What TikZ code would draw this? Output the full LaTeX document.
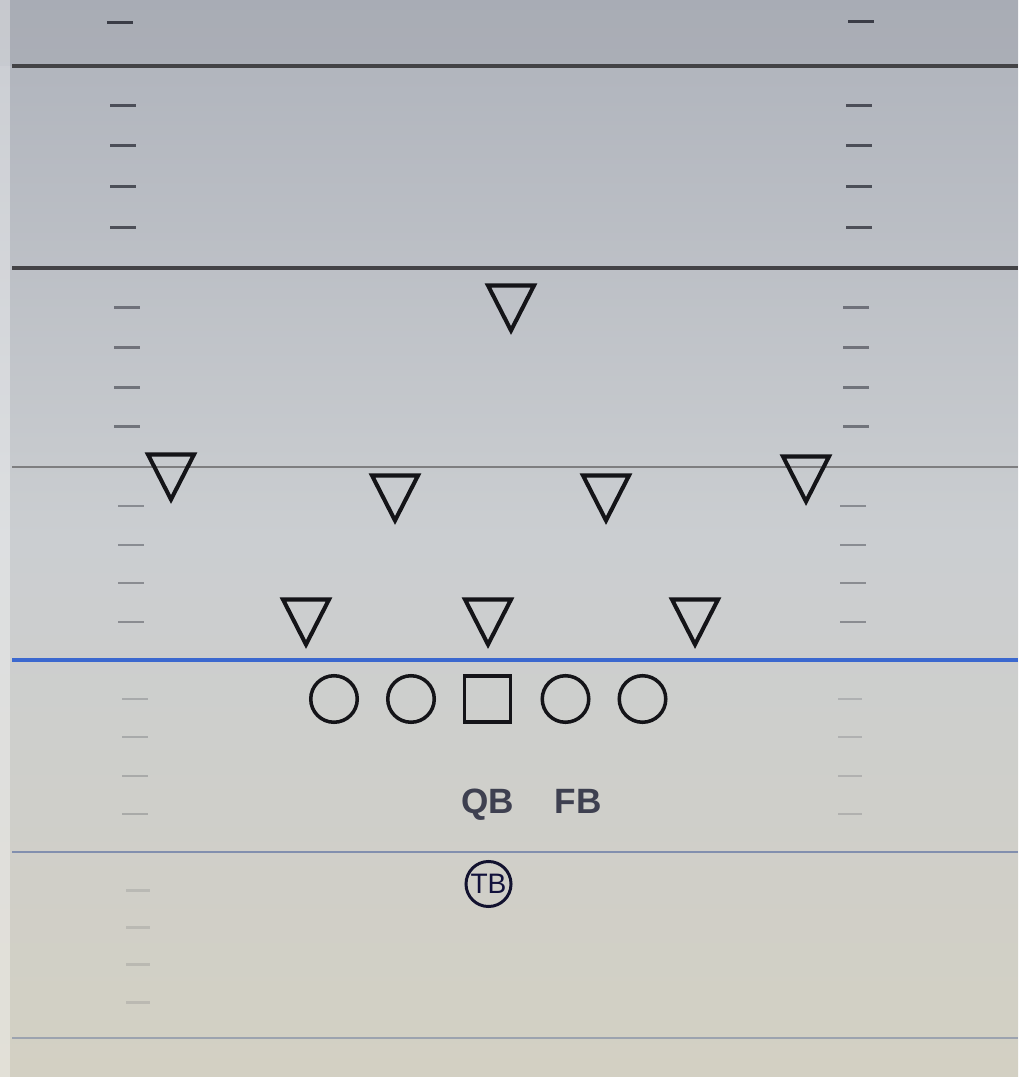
\documentclass[tikz,border=0pt]{standalone}
\usepackage{fontspec}
\setmainfont{Liberation Sans}
\definecolor{bgtop}{HTML}{AEB2BB}
\definecolor{bgmid}{HTML}{CBCED1}
\definecolor{bgbot}{HTML}{D3D0C3}
\definecolor{inkc}{HTML}{141418}
\definecolor{labc}{HTML}{3E4050}
\definecolor{losblue}{HTML}{3B68CF}
\definecolor{hashc}{HTML}{3A3C46}
\tikzset{
  yardline/.style={line width=#1, draw=inkc!80},
  hashmark/.style={line width=0.85pt, draw=hashc},
  lineman/.style={circle, draw=inkc, line width=1pt, minimum size=0.465cm, inner sep=0pt},
  center/.style={rectangle, draw=inkc, line width=1pt, minimum size=0.46cm, inner sep=0pt},
  back/.style={circle, draw=inkc!90!blue, line width=0.85pt, minimum size=0.45cm, inner sep=0pt,
    font=\fontsize{8}{8}\selectfont, text=inkc!85!blue},
  poslabel/.style={font=\fontsize{10}{10}\selectfont\bfseries, text=labc, anchor=base, inner sep=0pt},
  defender/.pic={\draw[line width=1.15pt, draw=inkc, line join=miter]
     (-23,-22.5) -- (23,-22.5) -- (0,22.5) -- cycle;}
}
\begin{document}
\begin{tikzpicture}[x=0.01cm,y=-0.01cm]
\useasboundingbox (0,0) rectangle (1018,1077);
% background
\shade[top color=bgtop, bottom color=bgbot, middle color=bgmid] (0,0) rectangle (1018,1077);
\fill[bgtop!90!black, opacity=0.3] (0,0) rectangle (1018,66);
\fill[white, opacity=0.35] (0,0) rectangle (10,1077);
% yard lines
\draw[yardline=1.15pt] (12,66) -- (1018,66);
\draw[yardline=0.9pt] (12,268) -- (1018,268);
\draw[line width=0.7pt, draw=inkc!55] (12,467) -- (1018,467);
\draw[line width=0.95pt, draw=losblue] (12,660) -- (1018,660);
\draw[line width=0.6pt, draw=losblue!45!gray, opacity=0.7] (12,852) -- (1018,852);
\draw[line width=0.6pt, draw=losblue!35!gray, opacity=0.5] (12,1038) -- (1018,1038);
% hash marks
\draw[hashmark] (107,23) -- (133,23);  \draw[hashmark] (848,22) -- (874,22);
\foreach \y in {106,146,187,228} {
  \draw[hashmark, opacity=0.85] (110,\y) -- (136,\y);
  \draw[hashmark, opacity=0.85] (846,\y) -- (872,\y);
}
\foreach \y in {308,348,388,427} {
  \draw[hashmark, opacity=0.6] (114,\y) -- (140,\y);
  \draw[hashmark, opacity=0.6] (843,\y) -- (869,\y);
}
\foreach \y in {506,545,583,622} {
  \draw[hashmark, opacity=0.45] (118,\y) -- (144,\y);
  \draw[hashmark, opacity=0.45] (840,\y) -- (866,\y);
}
\foreach \y in {699,737,776,814} {
  \draw[hashmark, opacity=0.25] (122,\y) -- (148,\y);
  \draw[hashmark, opacity=0.2] (838,\y) -- (862,\y);
}
\foreach \y in {890,927,964,1002} {
  \draw[hashmark, opacity=0.15] (126,\y) -- (150,\y);
}
% defense
\pic (d1) at (511,308) {defender};
\pic (d2) at (171,477) {defender};
\pic (d3) at (395,498) {defender};
\pic (d4) at (606,498) {defender};
\pic (d5) at (806,479) {defender};
\pic (d6) at (306,622) {defender};
\pic (d7) at (488,622) {defender};
\pic (d8) at (695,622) {defender};
% offense line
\node[lineman] (lt) at (334,699) {};
\node[lineman] (lg) at (411,699) {};
\node[center]  (c)  at (487.5,699) {};
\node[lineman] (rg) at (565.5,699) {};
\node[lineman] (rt) at (642.5,699) {};
% backs
\node[poslabel] (qb) at (488,813) {QB};
\node[poslabel] (fb) at (578,813) {FB};
\node[back] (tb) at (488.5,884) {TB};
\end{tikzpicture}
\end{document}
